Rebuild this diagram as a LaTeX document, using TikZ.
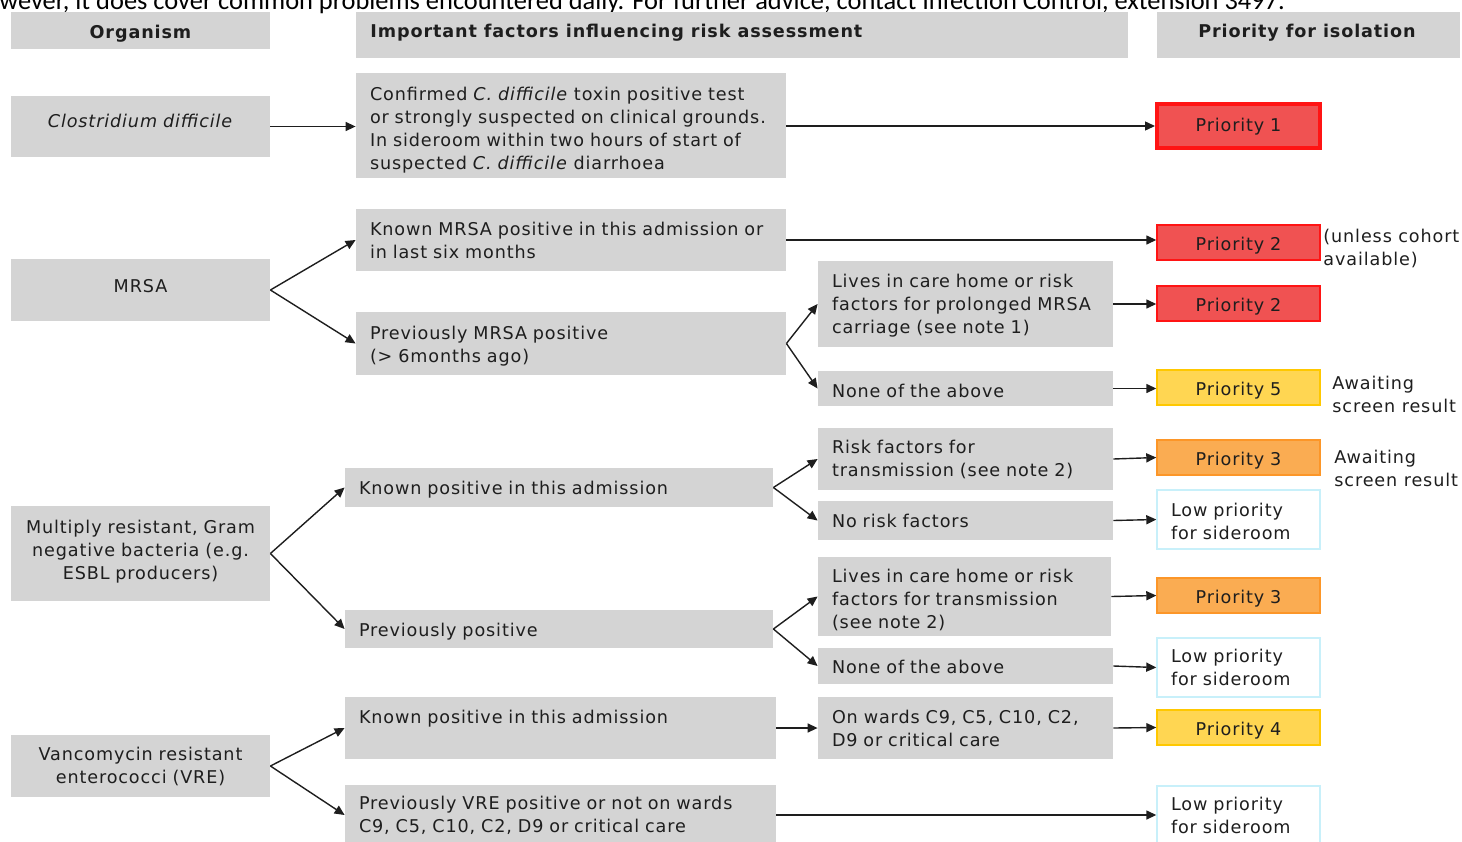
\documentclass[tikz,border=0pt]{standalone}
\usepackage{fontspec}
\setmainfont{DejaVu Sans}[LetterSpace=5]
\newfontfamily\calibfont{Carlito}
\usetikzlibrary{arrows.meta}
\definecolor{boxgray}{RGB}{212,212,212}
\definecolor{predfill}{RGB}{240,82,82}
\definecolor{predline}{RGB}{255,20,20}
\definecolor{pyelfill}{RGB}{255,214,82}
\definecolor{pyelline}{RGB}{255,200,0}
\definecolor{porafill}{RGB}{250,172,82}
\definecolor{poraline}{RGB}{252,150,40}
\definecolor{lowline}{RGB}{200,240,250}
\definecolor{arrowc}{RGB}{30,30,30}
\definecolor{txtc}{RGB}{30,30,30}
\newcommand{\bx}[7]{%
  \pgfmathsetmacro{\bxw}{(#4-#2)*0.5}%
  \pgfmathsetmacro{\bxh}{(#5-#3)*0.5}%
  \pgfmathsetmacro{\bxt}{(#4-#2)*0.5-14}%
  \node[#6, minimum width=\bxw pt, minimum height=\bxh pt, text width=\bxt pt] (#1) at ({(#2+#4)/2},{(#3+#5)/2}) {#7};}
\newcommand{\dn}[1]{\rule{0pt}{\dimexpr 6.6pt+#1pt\relax}}
\newcommand{\up}[1]{\rule[-#1pt]{0pt}{0pt}}
\begin{document}
\begin{tikzpicture}[x=0.5pt,y=-0.5pt,
  font=\fontsize{8.8}{11.5}\selectfont, text=txtc,
  gbox/.style={fill=boxgray, inner sep=0pt, align=left},
  cbox/.style={fill=boxgray, inner sep=0pt, align=center},
  pri1/.style={fill=predfill, draw=predline, line width=2pt, inner sep=0pt, align=center},
  pri/.style={fill=predfill, draw=predline, line width=0.7pt, inner sep=0pt, align=center},
  pyel/.style={fill=pyelfill, draw=pyelline, line width=0.7pt, inner sep=0pt, align=center},
  pora/.style={fill=porafill, draw=poraline, line width=0.7pt, inner sep=0pt, align=center},
  plow/.style={fill=white, draw=lowline, line width=0.7pt, inner sep=0pt, align=left},
  note/.style={anchor=west, align=left, inner sep=0pt},
  hdr/.style={font=\fontsize{8.8}{11.5}\selectfont\bfseries},
  arr/.style={draw=arrowc, line width=0.7pt, -{Triangle[length=5pt,width=4.5pt]}}]
\useasboundingbox (0,0) rectangle (1462,841);
\clip (0,0) rectangle (1462,841);
% cut-off introductory line
\node[anchor=base west, inner sep=0pt, font=\calibfont\fontsize{13.2}{15}\selectfont, text=black] (intro) at (-1,9) {wever, it does cover common problems encountered daily. For further advice, contact Infection Control, extension 3497.};
% headers
\bx{hOrg}{11}{12}{270}{49}{cbox,hdr}{\dn{3}Organism}
\bx{hFac}{356}{12}{1128}{58}{gbox}{}
\node[anchor=west, hdr, inner sep=0pt] (hFacT) at (370,33) {Important factors influencing risk assessment};
\bx{hPri}{1157}{12}{1460}{58}{cbox}{}
\node[hdr, inner sep=0pt] (hPriT) at (1307,33) {Priority for isolation};
% C. difficile
\bx{cd}{11}{96}{270}{157}{cbox}{\textit{Clostridium difficile}\up{6}}
\bx{cdc}{356}{73}{786}{178}{gbox}{\dn{5}Confirmed \textit{C. difficile} toxin positive test\\or strongly suspected on clinical grounds.\\In sideroom within two hours of start of\\suspected \textit{C. difficile} diarrhoea}
\bx{p1}{1157}{104}{1320}{148}{pri1}{\dn{1}Priority 1}
% MRSA
\bx{mrsa}{11}{259}{270}{321}{cbox}{MRSA\up{4}}
\bx{mk}{356}{209}{786}{271}{gbox}{Known MRSA positive in this admission or\\in last six months}
\bx{mp}{356}{312}{786}{375}{gbox}{\dn{3}Previously MRSA positive\\(> 6months ago)}
\bx{ml}{818}{261}{1113}{347}{gbox}{\dn{2}Lives in care home or risk\\factors for prolonged MRSA\\carriage (see note 1)}
\bx{mn}{818}{371}{1113}{406}{gbox}{\dn{3}None of the above}
\bx{p2a}{1157}{225}{1320}{260}{pri}{\dn{3}Priority 2}
\bx{p2b}{1157}{286}{1320}{321}{pri}{\dn{3}Priority 2}
\bx{p5}{1157}{370}{1320}{405}{pyel}{\dn{3}Priority 5}
\node[note] (n1) at (1323,248.5) {(unless cohort\\available)};
\node[note] (n2) at (1332,394.5) {Awaiting\\screen result};
% Gram negative
\bx{gm}{11}{506}{270}{601}{cbox}{Multiply resistant, Gram\\negative bacteria (e.g.\\ESBL producers)\up{4}}
\bx{gk}{345}{468}{773}{507}{gbox}{\dn{2}Known positive in this admission}
\bx{gp}{345}{610}{773}{648}{gbox}{\dn{3}Previously positive}
\bx{gr}{818}{428}{1113}{490}{gbox}{Risk factors for\\transmission (see note 2)}
\bx{gn}{818}{501}{1113}{540}{gbox}{No risk factors}
\bx{gl}{818}{557}{1111}{636}{gbox}{\dn{4}Lives in care home or risk\\factors for transmission\\(see note 2)}
\bx{gn2}{818}{648}{1113}{684}{gbox}{\dn{1}None of the above}
\bx{p3a}{1157}{440}{1320}{475}{pora}{\dn{3}Priority 3}
\bx{lo1}{1157}{490}{1320}{549}{plow}{\dn{2}Low priority\\for sideroom}
\bx{p3b}{1157}{578}{1320}{613}{pora}{\dn{3}Priority 3}
\bx{lo2}{1157}{638}{1320}{697}{plow}{Low priority\\for sideroom}
\node[note] (n3) at (1334,468.5) {Awaiting\\screen result};
% VRE
\bx{vre}{11}{735}{270}{797}{cbox}{Vancomycin resistant\\enterococci (VRE)}
\bx{vk}{345}{697}{776}{759}{gbox}{Known positive in this admission\\\mbox{}}
\bx{vp}{345}{785}{776}{845}{gbox}{Previously VRE positive or not on wards\\C9, C5, C10, C2, D9 or critical care}
\bx{vw}{818}{697}{1113}{759}{gbox}{On wards C9, C5, C10, C2,\\D9 or critical care}
\bx{p4}{1157}{710}{1320}{745}{pyel}{\dn{3}Priority 4}
\bx{lo3}{1157}{786}{1320}{845}{plow}{Low priority\\for sideroom}
% connectors
\draw[arr] (cd.east) -- (cd.east -| cdc.west);
\draw[arr] (cdc.east |- p1.west) -- (p1.west);
\draw[arr] (mrsa.east) -- (mk.west);
\draw[arr] (mrsa.east) -- (mp.west);
\draw[arr] (mk.east) -- (mk.east -| p2a.west);
\draw[arr] (mp.east) -- (ml.west);
\draw[arr] (mp.east) -- (mn.west);
\draw[arr] (ml.east) -- (ml.east -| p2b.west);
\draw[arr] (mn.east) -- (mn.east -| p5.west);
\draw[arr] (gm.east) -- (gk.west);
\draw[arr] (gm.east) -- (gp.west);
\draw[arr] (gk.east) -- (gr.west);
\draw[arr] (gk.east) -- (gn.west);
\draw[arr] (gp.east) -- (gl.west);
\draw[arr] (gp.east) -- (gn2.west);
\draw[arr] (gr.east) -- (p3a.west);
\draw[arr] (gn.east) -- (lo1.west);
\draw[arr] (gl.east) -- (p3b.west);
\draw[arr] (gn2.east) -- (lo2.west);
\draw[arr] (vre.east) -- (vk.west);
\draw[arr] (vre.east) -- (vp.west);
\draw[arr] (vk.east) -- (vw.west);
\draw[arr] (vw.east) -- (p4.west);
\draw[arr] (vp.east) -- (vp.east -| lo3.west);
\end{tikzpicture}
\end{document}
